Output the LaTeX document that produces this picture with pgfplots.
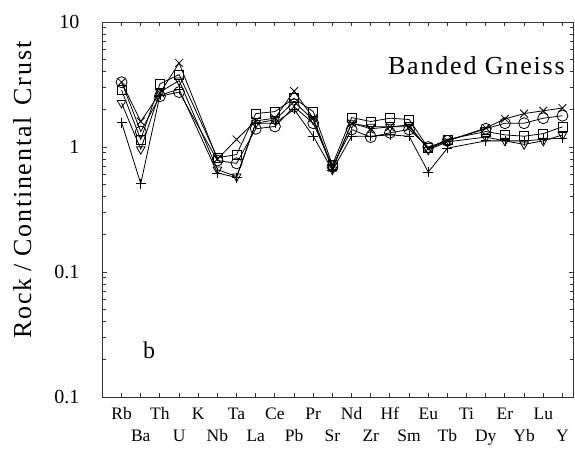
\documentclass[border=0pt]{standalone}
\usepackage{pgfplots}
\pgfplotsset{compat=1.18}
\usepackage{fontspec}
\setmainfont{Liberation Serif}
\newfontfamily\lsfont[LetterSpace=7]{Liberation Serif}
\begin{document}
\begin{tikzpicture}
\begin{axis}[
  at={(0pt,0pt)}, anchor=south west,
  scale only axis, width=470pt, height=375pt,
  ymode=log, ymin=0.01, ymax=10,
  xmin=-0.97, xmax=23.55,
  ytick={0.01,0.1,1,10}, yticklabels={0.1,0.1,1,10},
  minor ytick={0.02,0.03,0.04,0.05,0.06,0.07,0.08,0.09,0.2,0.3,0.4,0.5,0.6,0.7,0.8,0.9,2,3,4,5,6,7,8,9},
  xtick={0,...,23},
  xticklabels={{\strut Rb},{\strut\\\strut Ba},{\strut Th},{\strut\\\strut U},{\strut K},{\strut\\\strut Nb},{\strut Ta},{\strut\\\strut La},{\strut Ce},{\strut\\\strut Pb},{\strut Pr},{\strut\\\strut Sr},{\strut Nd},{\strut\\\strut Zr},{\strut Hf},{\strut\\\strut Sm},{\strut Eu},{\strut\\\strut Tb},{\strut Ti},{\strut\\\strut Dy},{\strut Er},{\strut\\\strut Yb},{\strut Lu},{\strut\\\strut Y}},
  xticklabel style={font=\fontsize{17.5}{22}\selectfont, align=center, anchor=north, yshift=-4pt},
  yticklabel style={font=\fontsize{20}{22}\selectfont, xshift=-20pt},
  xtick pos=both, ytick pos=both,
  axis line style={line width=1pt, black!80},
  xtick style={draw=black!80, line width=1pt},
  ytick style={draw=black!80, line width=1pt},
  minor tick style={draw=black!80, line width=1pt},
  clip=false,
  every axis plot/.append style={black, line width=0.8pt, mark options={solid, fill=white, line width=0.8pt}},
]
% circle
\addplot[mark=o, mark size=5.5pt] coordinates {
(0,3.3)(1,1.33)(2,2.55)(3,2.75)(5,0.78)(6,0.74)(7,1.40)(8,1.46)(9,2.1)(10,1.55)(11,0.70)(12,1.38)(13,1.2)(14,1.3)(15,1.38)(16,1.0)(17,1.12)(19,1.40)(20,1.55)(21,1.55)(22,1.70)(23,1.78)};
% cross
\addplot[mark=x, mark size=5.5pt] coordinates {
(0,3.3)(1,1.6)(2,2.7)(3,4.7)(5,0.80)(6,1.15)(7,1.62)(8,1.70)(9,2.8)(10,1.70)(11,0.68)(12,1.55)(13,1.40)(14,1.45)(15,1.45)(16,0.97)(17,1.12)(19,1.42)(20,1.68)(21,1.85)(22,1.95)(23,2.05)};
% square
\addplot[mark=square, mark size=4.5pt] coordinates {
(0,2.85)(1,1.15)(2,3.2)(3,3.8)(5,0.82)(6,0.87)(7,1.85)(8,1.92)(9,2.45)(10,1.92)(11,0.72)(12,1.72)(13,1.6)(14,1.7)(15,1.66)(16,0.98)(17,1.15)(19,1.33)(20,1.25)(21,1.22)(22,1.28)(23,1.45)};
% triangle down
\addplot[mark=triangle, mark size=5pt, mark options={rotate=180}] coordinates {
(0,2.25)(1,0.96)(2,2.75)(3,3.4)(5,0.66)(6,0.58)(7,1.55)(8,1.65)(9,2.3)(10,1.65)(11,0.66)(12,1.55)(13,1.45)(14,1.45)(15,1.5)(16,0.95)(17,1.10)(19,1.2)(20,1.12)(21,1.05)(22,1.12)(23,1.25)};
% plus
\addplot[mark=+, mark size=5pt] coordinates {
(0,1.57)(1,0.51)(2,2.6)(3,2.9)(5,0.62)(6,0.57)(7,1.55)(8,1.55)(9,2.0)(10,1.22)(11,0.65)(12,1.22)(13,1.22)(14,1.25)(15,1.22)(16,0.63)(17,0.98)(19,1.12)(20,1.12)(21,1.12)(22,1.15)(23,1.18)};
\node[anchor=base east, font=\fontsize{26}{30}\lsfont] at (axis description cs:0.99,0.859) {Banded Gneiss};
\node[anchor=base, font=\fontsize{24}{28}\selectfont] at (axis description cs:0.098,0.104) {b};
\node[rotate=90, anchor=center, font=\fontsize{26}{30}\lsfont] at (axis description cs:-0.172,0.552) {Rock\hspace{7pt}/\hspace{7pt}Continental\hspace{12pt}Crust};
\end{axis}
\pgfresetboundingbox
\path[use as bounding box] (-103pt,-51pt) rectangle (472pt,397pt);
\end{tikzpicture}
\end{document}
